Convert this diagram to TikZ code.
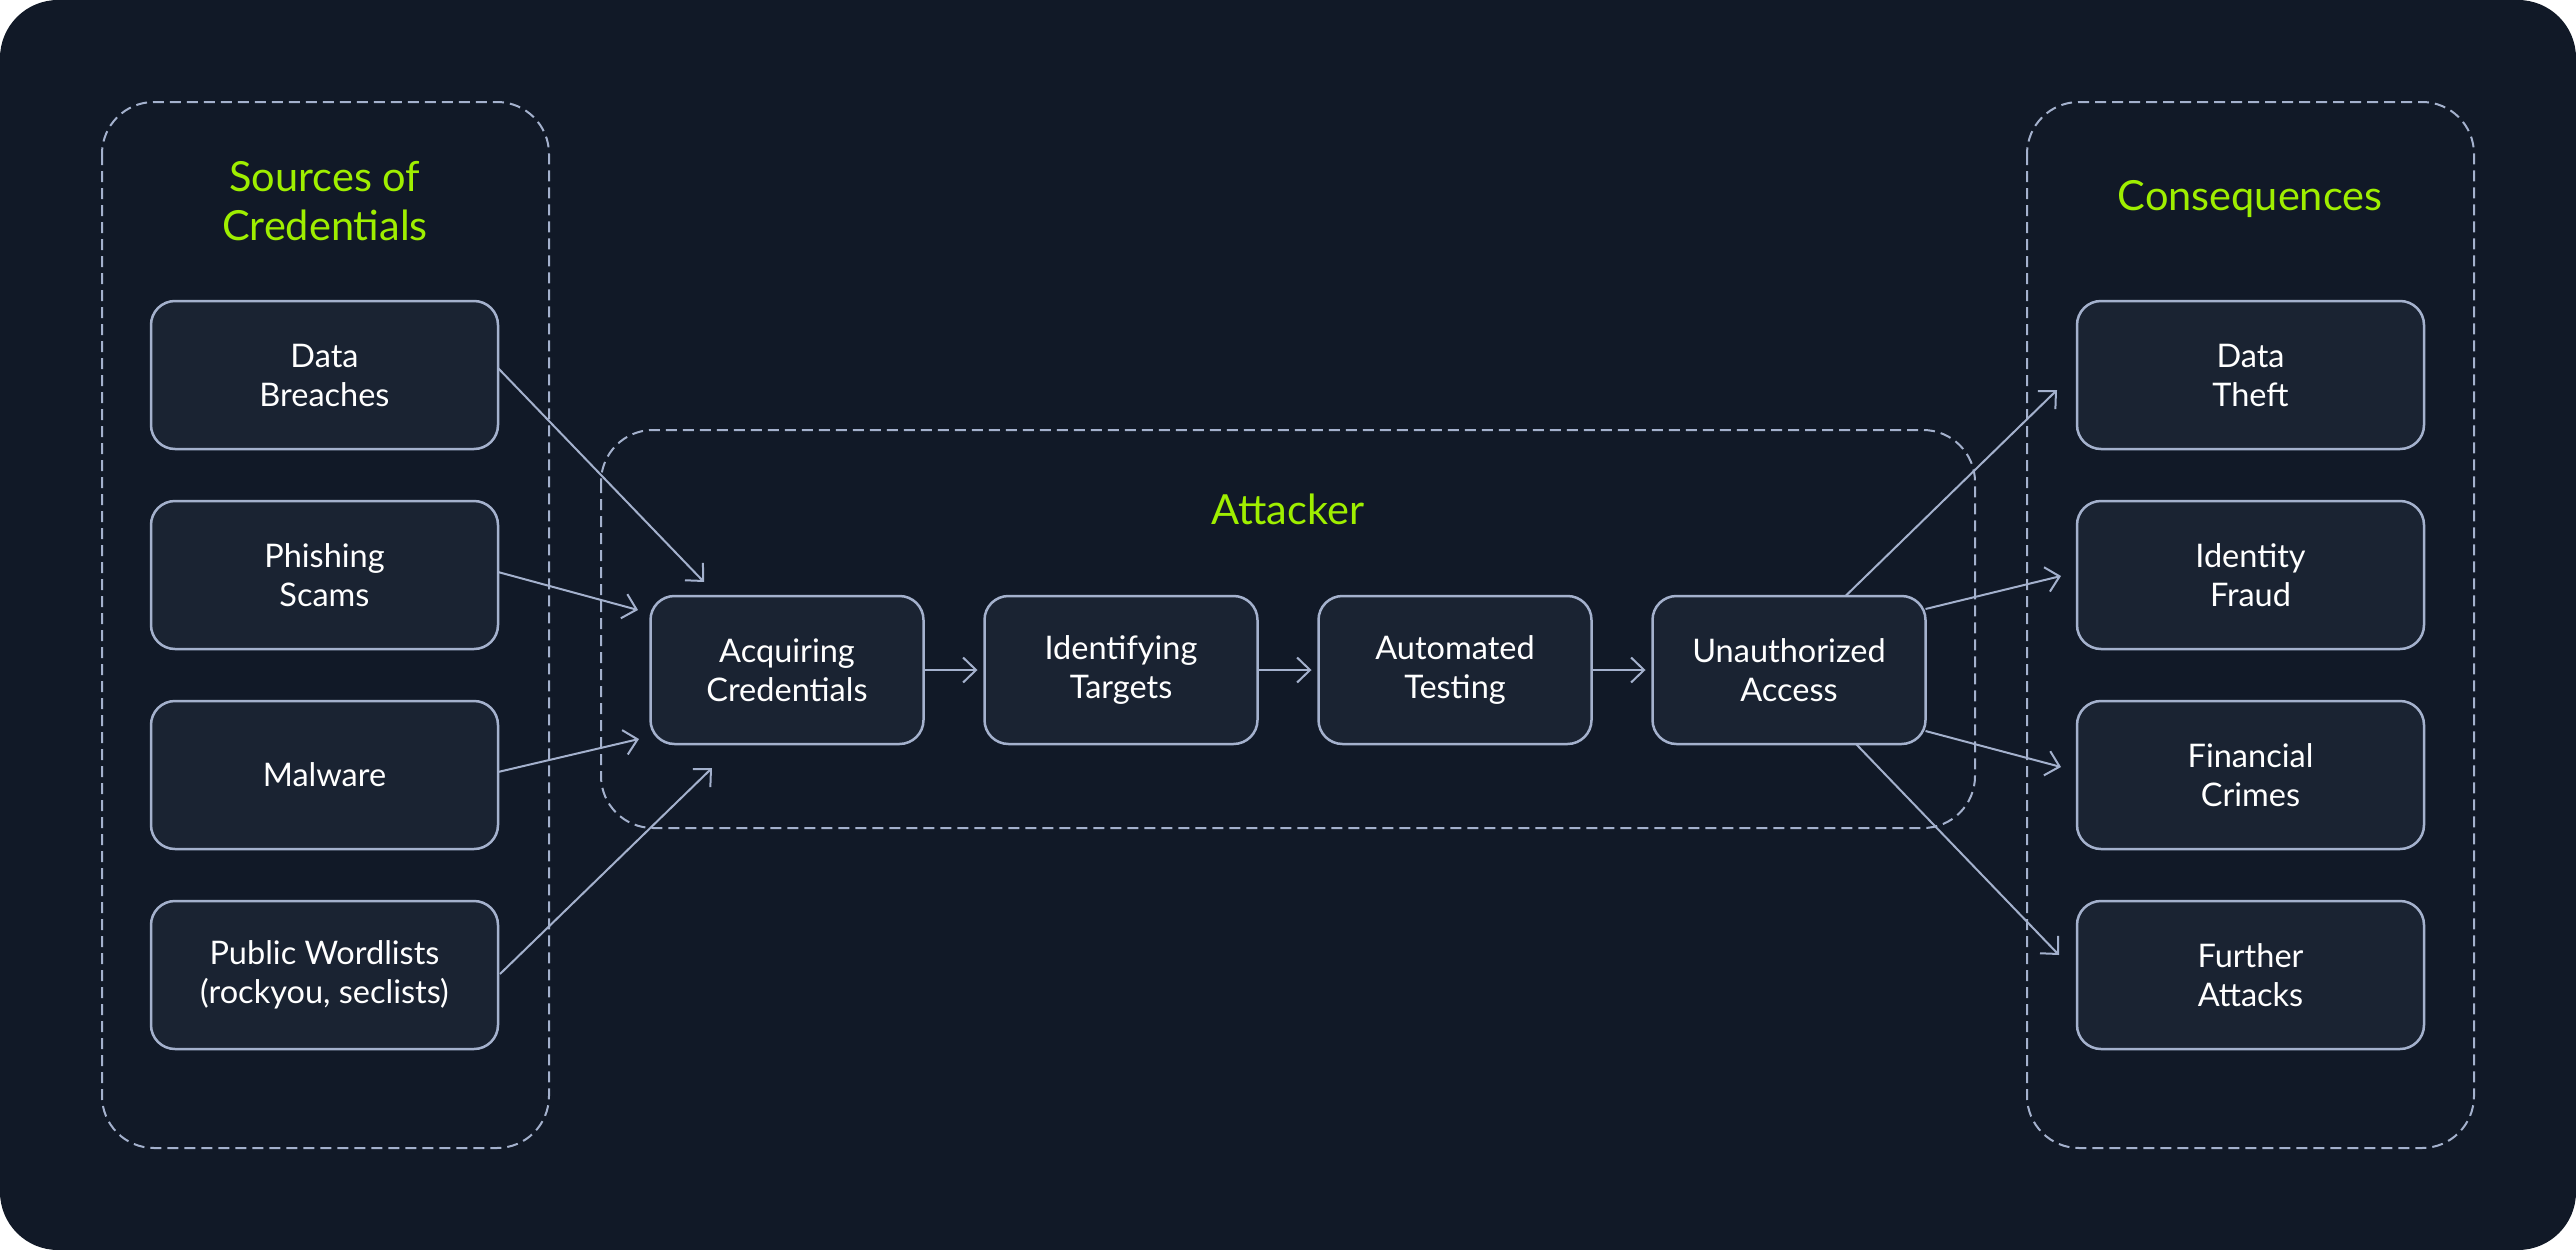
\documentclass[tikz,border=0pt]{standalone}
\usepackage{fontspec}
\setmainfont{Lato}
\usetikzlibrary{positioning, arrows.meta}
\definecolor{bgdark}{HTML}{111927}
\definecolor{boxfill}{HTML}{1A2332}
\definecolor{edgegrey}{HTML}{A4B1CD}
\definecolor{htbgreen}{HTML}{9FEF00}

\begin{document}
\begin{tikzpicture}[x=1pt, y=-1pt, node distance=52pt and 61pt,
  main node/.style={draw=edgegrey, line width=2.5pt, fill=boxfill, rounded corners=24pt,
    minimum width=347pt, minimum height=148pt, outer sep=0pt, align=center, text=white,
    font=\fontsize{32.5}{39}\selectfont},
  stage node/.style={main node, minimum width=273pt},
  group box/.style={draw=edgegrey, line width=2pt, dash pattern=on 11pt off 6pt, rounded corners=52pt},
  group title/.style={text=htbgreen, align=center, inner sep=0pt, font=\fontsize{41.5}{49}\selectfont},
  flow/.style={draw=edgegrey, line width=2pt, -{Straight Barb[length=13pt, width=25pt]}}]

\useasboundingbox (0,0) rectangle (2576,1250);
\fill[white] (0,0) rectangle (2576,1250);
\fill[bgdark, rounded corners=58pt] (0,0) rectangle (2576,1250);

\draw[group box] (102,102) rectangle (549,1148);
\draw[group box] (601,430) rectangle (1975,828);
\draw[group box] (2027,102) rectangle (2474,1148);

\node[group title] (src) at (325,201) {Sources of\\Credentials};
\node[group title] (atk) at (1288,509) {Attacker};
\node[group title] (csq) at (2250,199) {Consequences};

\node[main node] (db) at (324.5,375) {Data\\Breaches};
\node[main node] (ph) [below=of db] {Phishing\\Scams};
\node[main node] (mw) [below=of ph] {Malware};
\node[main node] (pw) [below=of mw] {Public Wordlists\\(rockyou, seclists)};

\node[stage node] (acq) at (787,670) {Acquiring\\Credentials};
\node[stage node] (idt) [right=of acq] {Identifying\\Targets};
\node[stage node] (aut) [right=of idt] {Automated\\Testing};
\node[stage node] (una) [right=of aut] {Unauthorized\\Access};

\node[main node] (dt) at (2250.5,375) {Data\\Theft};
\node[main node] (idf) [below=of dt] {Identity\\Fraud};
\node[main node] (fin) [below=of idf] {Financial\\Crimes};
\node[main node] (fur) [below=of fin] {Further\\Attacks};

\draw[flow] ([shift={(0,-7)}]db.east) -- ([shift={(53.5,-14)}]acq.north west);
\draw[flow] ([shift={(0,-3)}]ph.east) -- ([shift={(-12.5,14)}]acq.north west);
\draw[flow] ([shift={(0,-3)}]mw.east) -- ([shift={(-11.5,-5)}]acq.south west);
\draw[flow] ([shift={(2,-1)}]pw.east) -- ([shift={(61.5,24)}]acq.south west);

\draw[flow, shorten >=7pt] (acq) -- (idt);
\draw[flow, shorten >=7pt] (idt) -- (aut);
\draw[flow, shorten >=7pt] (aut) -- (una);

\draw[flow] ([shift={(56.5,0)}]una.north) -- ([shift={(-20,15)}]dt.west);
\draw[flow] ([shift={(0,13)}]una.north east) -- ([shift={(-16,1)}]idf.west);
\draw[flow] ([shift={(0,-13)}]una.south east) -- ([shift={(-16,-8)}]fin.west);
\draw[flow] ([shift={(67,0)}]una.south) -- ([shift={(-18,-20)}]fur.west);
\end{tikzpicture}
\end{document}
